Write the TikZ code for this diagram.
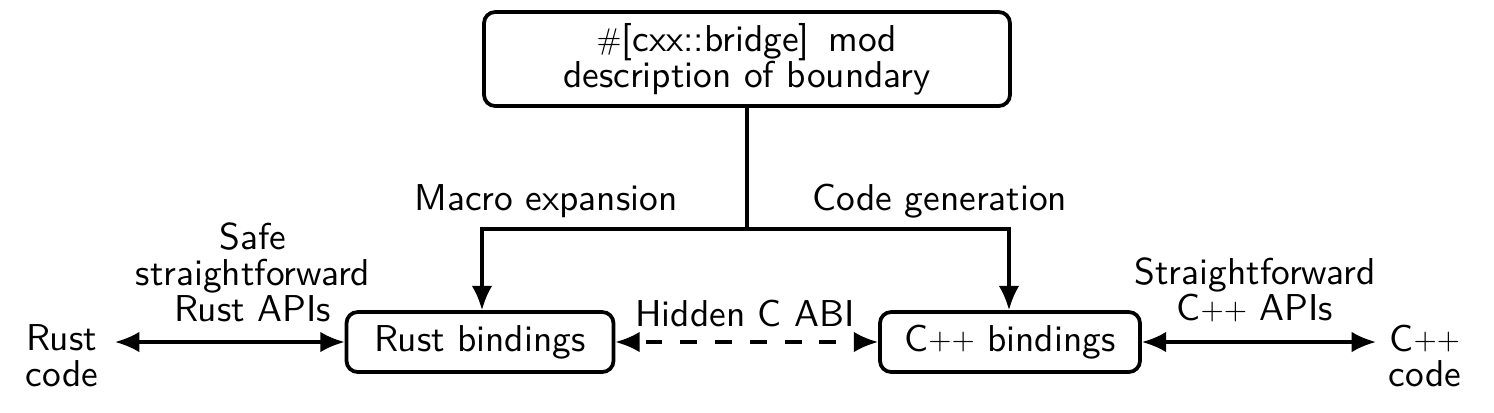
\documentclass[tikz,border=0pt]{standalone}
\usetikzlibrary{arrows.meta}
\newcommand\pl{\raisebox{0.04em}{\scalebox{0.8}{+}}}
\newcommand\hsh{\raisebox{0.05em}{\scalebox{0.8}{\#}}}
\begin{document}
\begin{tikzpicture}[x=0.2674pt,y=-0.2674pt,
  font=\sffamily\fontsize{10}{9.6}\selectfont,
  box/.style={draw,line width=1pt,rounded corners=3pt,inner sep=0pt,align=center},
  conn/.style={line width=0.85pt},
  arr/.style={conn,-{Latex[length=6.5pt,width=5.5pt]}},
  darr/.style={conn,{Latex[length=6.5pt,width=5.5pt]}-{Latex[length=6.5pt,width=5.5pt]}},
  lbl/.style={inner sep=0pt,align=center}]
\useasboundingbox (0,0) rectangle (1494,412);
\node[box,minimum width=526*0.2674pt,minimum height=94*0.2674pt] (top) at (747,59) {\hsh[cxx::bridge]\hspace{0.5em}mod\\description of boundary};
\node[box,minimum width=267*0.2674pt,minimum height=60*0.2674pt] (rb) at (480,342) {Rust bindings};
\node[box,minimum width=260*0.2674pt,minimum height=60*0.2674pt] (cb) at (1010,342) {C\pl\pl{} bindings};
\node[lbl] (rc) at (62,356) {Rust\\code};
\node[lbl] (cc) at (1425,356) {C\pl\pl\\code};
\coordinate (j) at (747,229);
\coordinate (jl) at (482,229);
\coordinate (jr) at (1009,229);
\draw[conn] (top.south) -- (j);
\draw[arr] (j) -- (jl) -- (jl |- rb.north);
\draw[arr] (j) -- (jr) -- (jr |- cb.north);
\node[lbl] (me) at (546,201) {Macro expansion};
\node[lbl] (cg) at (940,201) {Code generation};
\coordinate (rce) at (115,342);
\draw[darr] (rce) -- (rb.west);
\draw[darr,dash pattern=on 4.5pt off 4.8pt,dash phase=-2pt] (rb.east) -- (cb.west);
\coordinate (cce) at (1376,342);
\draw[darr] (cb.east) -- (cce);
\node[lbl] (safe) at (253,272) {Safe\\straightforward\\Rust APIs};
\node[lbl] (hid) at (745,313) {Hidden C ABI};
\node[lbl] (str) at (1255,290) {Straightforward\\C\pl\pl{} APIs};
\end{tikzpicture}
\end{document}
